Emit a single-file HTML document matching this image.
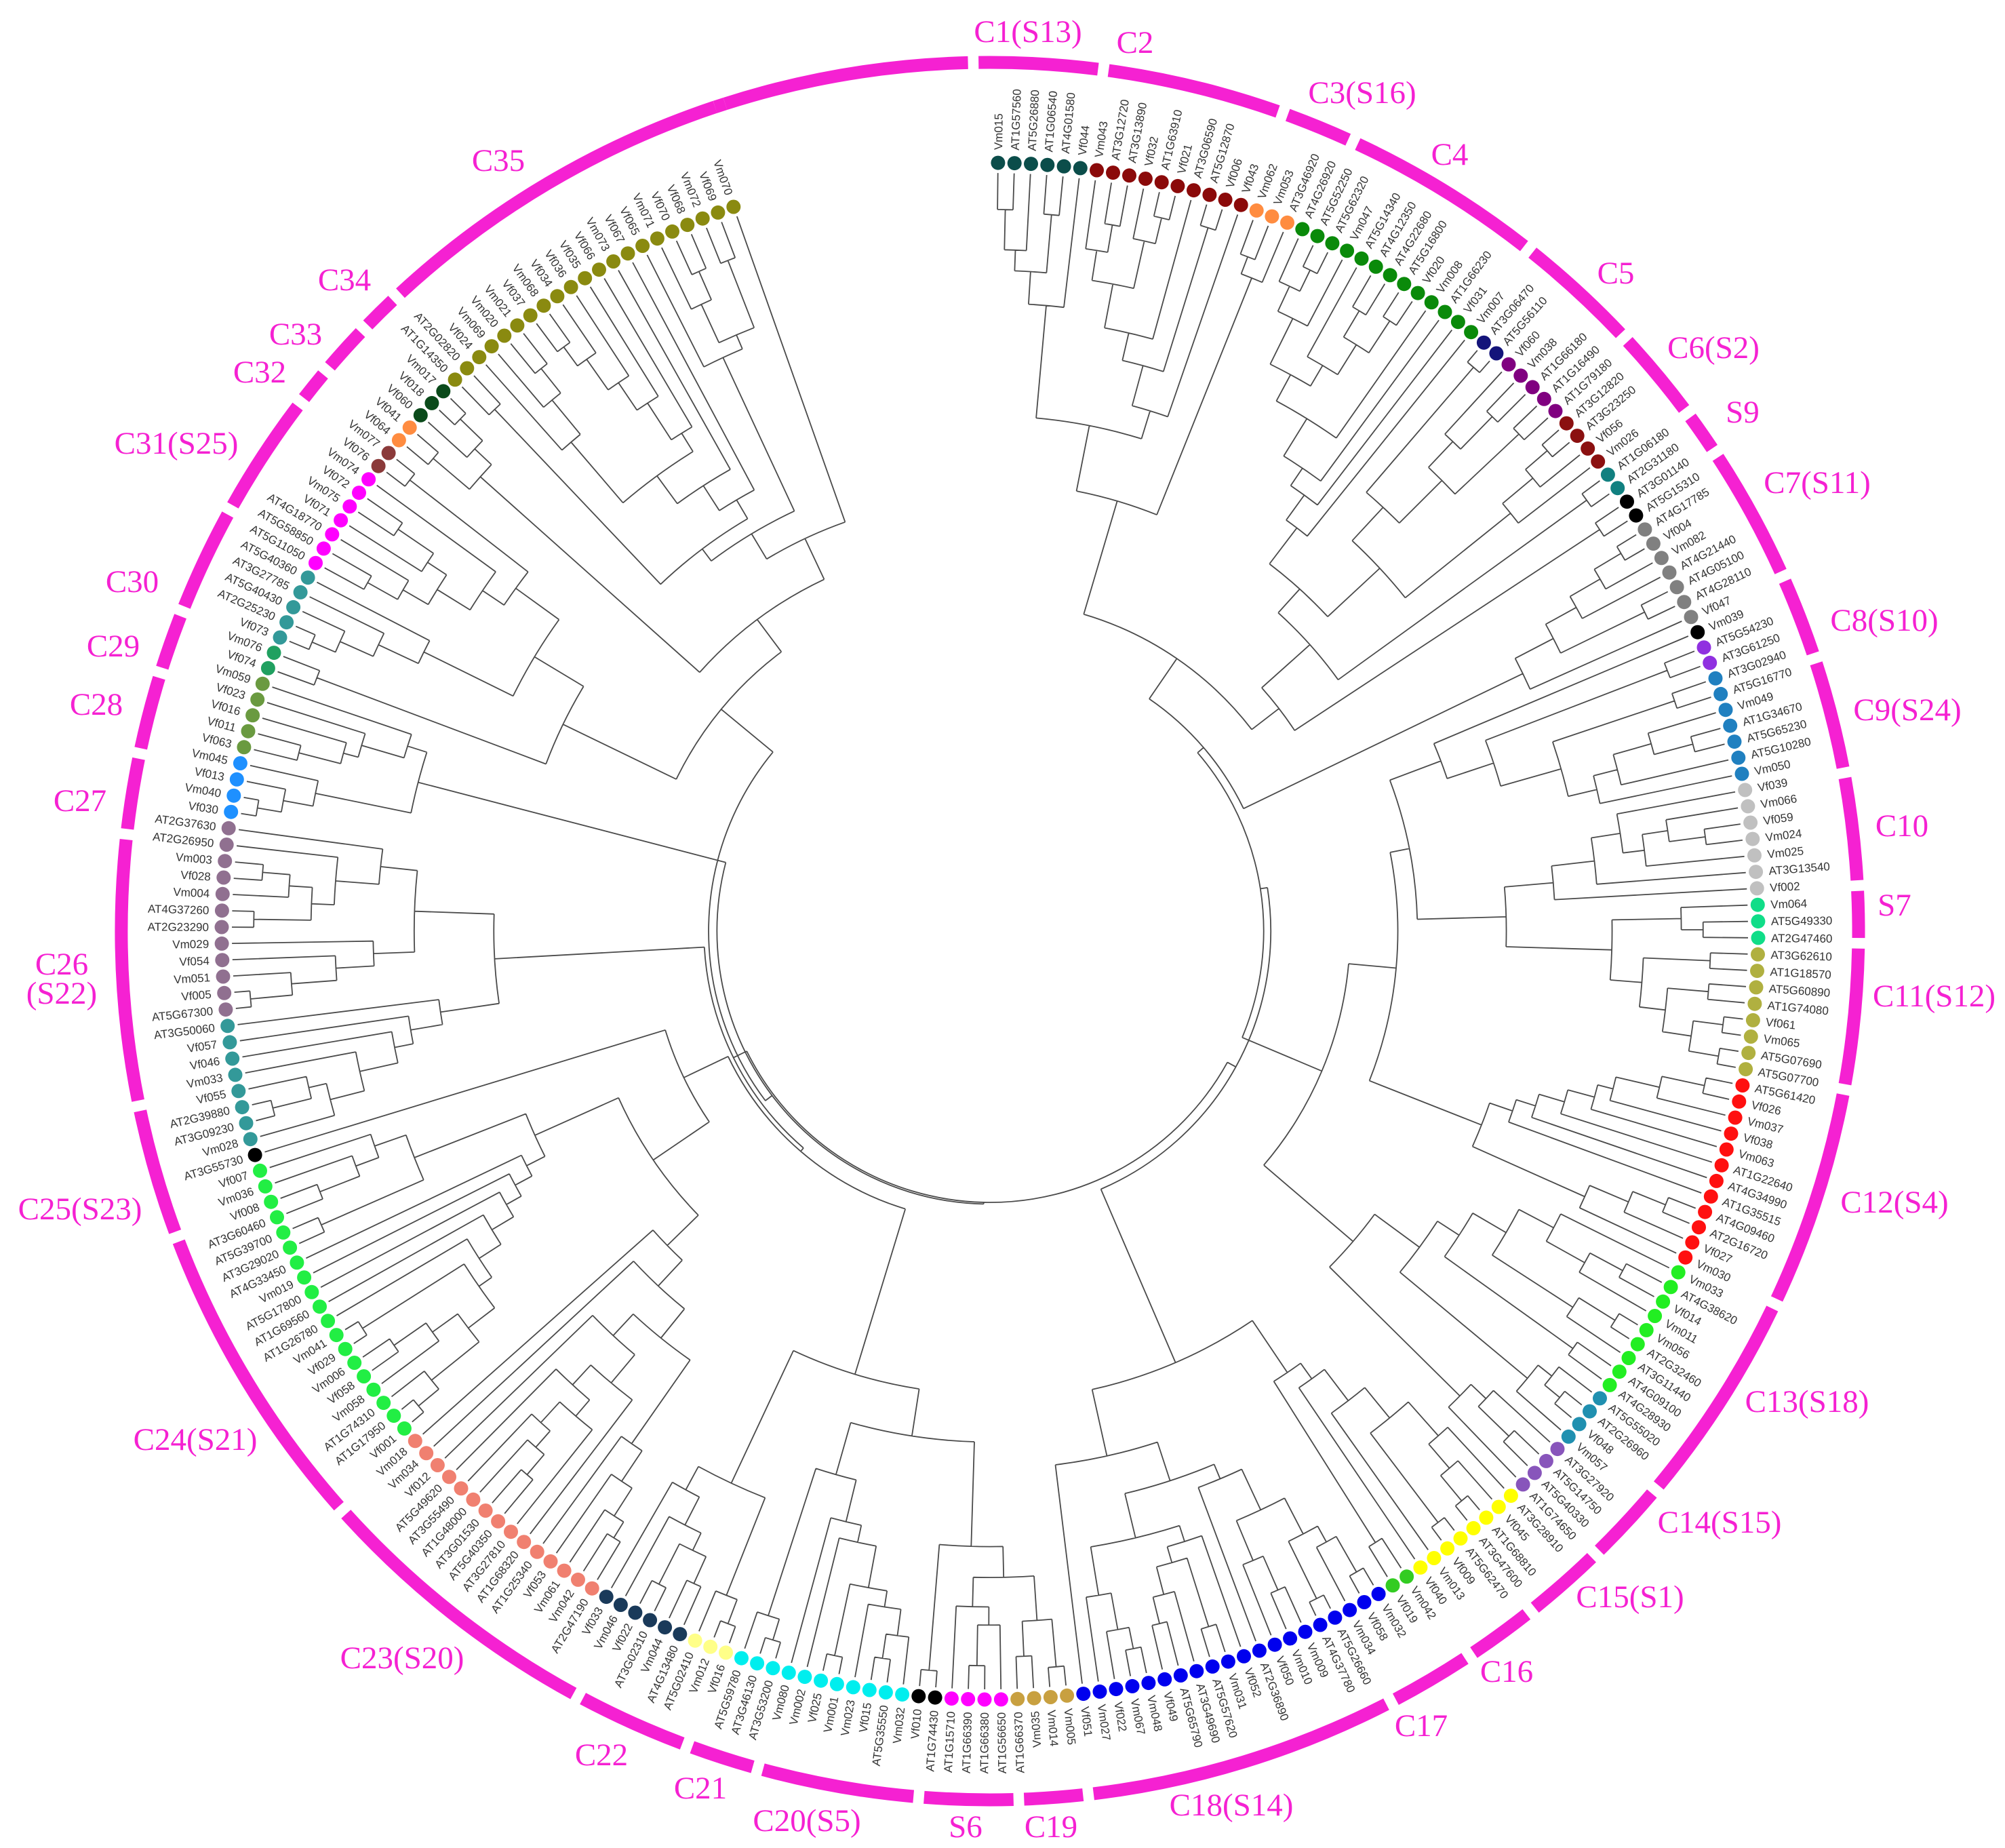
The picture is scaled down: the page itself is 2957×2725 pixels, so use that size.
<!DOCTYPE html>
<html><head><meta charset="utf-8"><style>
html,body{margin:0;padding:0;background:#fff;}
svg{display:block;}
.g{font-family:"Liberation Serif",serif;font-size:47px;fill:#f521d2;}
</style></head><body>
<svg id="s" width="2957" height="2725" viewBox="0 0 2957 2725" xmlns="http://www.w3.org/2000/svg">
<g id="tree" fill="none" stroke="#4a4a4a" stroke-width="1.8"></g>
<g id="ring" fill="none" stroke="#f521d2" stroke-width="19"></g>
<g id="dots"></g>
<g id="labs" font-family="Liberation Sans, sans-serif" font-size="17" fill="#333"></g>
<g class="g" text-anchor="middle">
<text x="1516" y="62">C1(S13)</text>
<text x="1674" y="78">C2</text>
<text x="2009" y="152">C3(S16)</text>
<text x="2138" y="243">C4</text>
<text x="2383" y="418">C5</text>
<text x="2527" y="528">C6(S2)</text>
<text x="2570" y="623">S9</text>
<text x="2680" y="727">C7(S11)</text>
<text x="2779" y="930">C8(S10)</text>
<text x="2813" y="1062">C9(S24)</text>
<text x="2805" y="1233">C10</text>
<text x="2794" y="1350">S7</text>
<text x="2762" y="1484" text-anchor="start">C11(S12)</text>
<text x="2794" y="1788">C12(S4)</text>
<text x="2665" y="2082">C13(S18)</text>
<text x="2536" y="2260">C14(S15)</text>
<text x="2404" y="2370">C15(S1)</text>
<text x="2222" y="2480">C16</text>
<text x="2096" y="2560">C17</text>
<text x="1816" y="2677">C18(S14)</text>
<text x="1550" y="2709">C19</text>
<text x="1424" y="2709">S6</text>
<text x="1190" y="2700">C20(S5)</text>
<text x="1033" y="2652">C21</text>
<text x="887" y="2603">C22</text>
<text x="593" y="2460">C23(S20)</text>
<text x="288" y="2138">C24(S21)</text>
<text x="118" y="1798">C25(S23)</text>
<text x="91" y="1437">C26</text>
<text x="91" y="1480">(S22)</text>
<text x="118" y="1196">C27</text>
<text x="142" y="1054">C28</text>
<text x="167" y="968">C29</text>
<text x="195" y="873">C30</text>
<text x="260" y="669">C31(S25)</text>
<text x="383" y="564">C32</text>
<text x="436" y="508">C33</text>
<text x="508" y="428">C34</text>
<text x="735" y="252">C35</text>
</g>
</svg>
<script>
var NAMES="Vm015 AT1G57560 AT5G26880 AT1G06540 AT4G01580 Vf044 Vm043 AT3G12720 AT3G13890 Vf032 AT1G63910 Vf021 AT3G06590 AT5G12870 Vf006 Vf043 Vm062 Vm053 AT3G46920 AT4G26920 AT5G52250 AT5G62320 Vm047 AT5G14340 AT4G12350 AT4G22680 AT5G16800 Vf020 Vm008 AT1G66230 Vf031 Vm007 AT3G06470 AT5G56110 Vf060 Vm038 AT1G66180 AT1G16490 AT1G79180 AT3G12820 AT3G23250 Vf056 Vm026 AT1G06180 AT2G31180 AT3G01140 AT5G15310 AT4G17785 Vf004 Vm082 AT4G21440 AT4G05100 AT4G28110 Vf047 Vm039 AT5G54230 AT3G61250 AT3G02940 AT5G16770 Vm049 AT1G34670 AT5G65230 AT5G10280 Vm050 Vf039 Vm066 Vf059 Vm024 Vm025 AT3G13540 Vf002 Vm064 AT5G49330 AT2G47460 AT3G62610 AT1G18570 AT5G60890 AT1G74080 Vf061 Vm065 AT5G07690 AT5G07700 AT5G61420 Vf026 Vm037 Vf038 Vm063 AT1G22640 AT4G34990 AT1G35515 AT4G09460 AT2G16720 Vf027 Vm030 Vm033 AT4G38620 Vf014 Vm011 Vm056 AT2G32460 AT3G11440 AT4G09100 AT4G28930 AT5G55020 AT2G26960 Vf048 Vm057 AT3G27920 AT5G14750 AT5G40330 AT1G74650 AT3G28910 Vf045 AT1G68810 AT3G47600 AT5G62470 Vf009 Vm013 Vf040 Vm042 Vf019 Vm032 Vf058 Vm034 AT5G26660 AT4G37780 Vm009 Vm010 Vf050 AT2G36890 Vf052 Vm031 AT5G57620 AT3G49690 AT5G65790 Vf049 Vm048 Vm067 Vf022 Vm027 Vf051 Vm005 Vm014 Vm035 AT1G66370 AT1G56650 AT1G66380 AT1G66390 AT1G15710 AT1G74430 Vf010 Vm032 AT5G35550 Vf015 Vm023 Vm001 Vf025 Vm002 Vm080 AT3G53200 AT3G46130 AT5G59780 Vf016 Vm012 AT5G02410 AT4G13480 Vm044 AT3G02310 Vf022 Vm046 Vf033 AT2G47190 Vm042 Vm061 Vf053 AT1G25340 AT1G68320 AT3G27810 AT5G40350 AT3G01530 AT1G48000 AT3G55490 AT5G49620 Vf012 Vm034 Vm018 Vf001 AT1G17950 AT1G74310 Vm058 Vf058 Vm006 Vf029 Vm041 AT1G26780 AT1G69560 AT5G17800 Vm019 AT4G33450 AT3G29020 AT5G39700 AT3G60460 Vf008 Vm036 Vf007 AT3G55730 Vm028 AT3G09230 AT2G39880 Vf055 Vm033 Vf046 Vf057 AT3G50060 AT5G67300 Vf005 Vm051 Vf054 Vm029 AT2G23290 AT4G37260 Vm004 Vf028 Vm003 AT2G26950 AT2G37630 Vf030 Vm040 Vf013 Vm045 Vf063 Vf011 Vf016 Vf023 Vm059 Vf074 Vm076 Vf073 AT2G25230 AT5G40430 AT3G27785 AT5G40360 AT5G11050 AT5G58850 AT4G18770 Vf071 Vm075 Vf072 Vm074 Vf076 Vm077 Vf064 Vf041 Vf060 Vf018 Vm017 AT1G14350 AT2G02820 Vf024 Vm069 Vm020 Vm021 Vf037 Vm068 Vf034 Vf036 Vf035 Vf066 Vm073 Vf067 Vf065 Vm071 Vf070 Vf068 Vm072 Vf069 Vm070".split(" ");
var NS="http://www.w3.org/2000/svg",CX=1460,CY=1373;
function P(r,a){a=a*Math.PI/180;return [CX+r*Math.sin(a),CY-r*Math.cos(a)];}
function el(t,at,par){var e=document.createElementNS(NS,t);for(var k in at)e.setAttribute(k,at[k]);document.getElementById(par).appendChild(e);return e;}
function arc(r,a1,a2){var p=P(r,a1),q=P(r,a2);return "M"+p[0].toFixed(1)+" "+p[1].toFixed(1)+"A"+r+" "+r+" 0 "+((a2-a1)>180?1:0)+" 1 "+q[0].toFixed(1)+" "+q[1].toFixed(1);}
var RB=[-18.1,-1.1,7.5,19.7,24.7,38.3,46.9,53.4,56.6,65.9,71.7,79.5,87,90.8,100.5,115.4,130,135.8,141.5,146.5,152.5,173.5,178.1,184.7,195.5,200.4,208.3,228.2,249.4,258.4,276.4,281.8,287.3,291.6,299,307.5,310.2,313.9,316.9,341.9];
for(var i=0;i<RB.length;i++){var a1=RB[i]+0.35,a2=(i+1<RB.length?RB[i+1]:RB[0]+360)-0.35;el("path",{d:arc(1281,a1,a2)},"ring");}
var DC=[[0,"#0b4d4a"],[7.5,"#8b0a0a"],[19.7,"#ff8c40"],[23.5,"#0a8a0a"],[39.5,"#14147a"],[41.5,"#800080"],[47.5,"#8b1010"],[53.5,"#118080"],[56,"#000"],[57.3,"#808080"],[66,"#000"],[67.5,"#9030e0"],[70,"#2080c0"],[78.5,"#c0c0c0"],[87,"#10dd88"],[91,"#b0b040"],[100.5,"#ff1010"],[116,"#22ee22"],[127,"#2090b0"],[131.5,"#8855bb"],[137,"#ffff00"],[146.5,"#33cc22"],[149.5,"#0000ee"],[174,"#c8a040"],[178.5,"#ff00ff"],[184,"#000"],[186.5,"#00eeee"],[199,"#ffff88"],[203.5,"#1a3a5a"],[210,"#f08070"],[228.5,"#22ee44"],[252,"#000"],[253.5,"#339999"],[263,"#907090"],[278,"#1e90ff"],[283.5,"#6a9a40"],[289.5,"#20a060"],[292,"#339999"],[298.5,"#ff00ff"],[306.5,"#8b3a3a"],[309.5,"#ff8c40"],[311,"#0a4a1a"],[315.5,"#8a8a10"]];
var N=NAMES.length,A0=0.6,A1=340.5,leaves=[];
for(i=0;i<N;i++){var a=A0+(A1-A0)*i/(N-1),ci=0;for(var j=0;j<DC.length;j++)if(a>=DC[j][0])ci=j;leaves.push({a:a,c:ci,r:1118});
 var p=P(1133,a);el("circle",{cx:p[0].toFixed(1),cy:p[1].toFixed(1),r:10.5,fill:DC[ci][1]},"dots");
 var q=P(1152,a),t;
 if(a<176){t=el("text",{x:q[0].toFixed(1),y:q[1].toFixed(1),transform:"rotate("+(a-90).toFixed(2)+" "+q[0].toFixed(1)+" "+q[1].toFixed(1)+")",dy:"6"},"labs");}
 else{t=el("text",{x:q[0].toFixed(1),y:q[1].toFixed(1),"text-anchor":"end",transform:"rotate("+(a+90).toFixed(2)+" "+q[0].toFixed(1)+" "+q[1].toFixed(1)+")",dy:"6"},"labs");}
 t.textContent=NAMES[i];}
var seed=12345;function rnd(){seed=(seed*1103515245+12345)&0x7fffffff;return seed/0x7fffffff;}
var D="";
function join(n1,n2,r){D+=arc(r,n1.a,n2.a);
 [n1,n2].forEach(function(c){var p=P(r,c.a),q=P(c.r,c.a);D+="M"+p[0].toFixed(1)+" "+p[1].toFixed(1)+"L"+q[0].toFixed(1)+" "+q[1].toFixed(1);});
 return {a:(n1.a+n2.a)/2,r:r};}
function build(L){if(L.length==1)return {a:L[0].a,r:1118};
 var k=1+Math.floor(rnd()*(L.length-1));if(rnd()<0.5&&L.length>3)k=L.length-1;
 var c1=build(L.slice(0,k)),c2=build(L.slice(k));
 return join(c1,c2,Math.min(c1.r,c2.r)-(22+rnd()*45));}
var clades=[],cur=[];
for(i=0;i<N;i++){if(cur.length&&leaves[i].c!=cur[0].c){clades.push(build(cur));cur=[];}cur.push(leaves[i]);}
clades.push(build(cur));
while(clades.length>1){var m=Math.floor(rnd()*(clades.length-1));var c1=clades[m],c2=clades[m+1];
 var r=Math.min(c1.r,c2.r)-(25+rnd()*80);if(r<400)r=400+rnd()*30;
 clades.splice(m,2,join(c1,c2,r));}
el("path",{d:D},"tree");
</script>
</body></html>
